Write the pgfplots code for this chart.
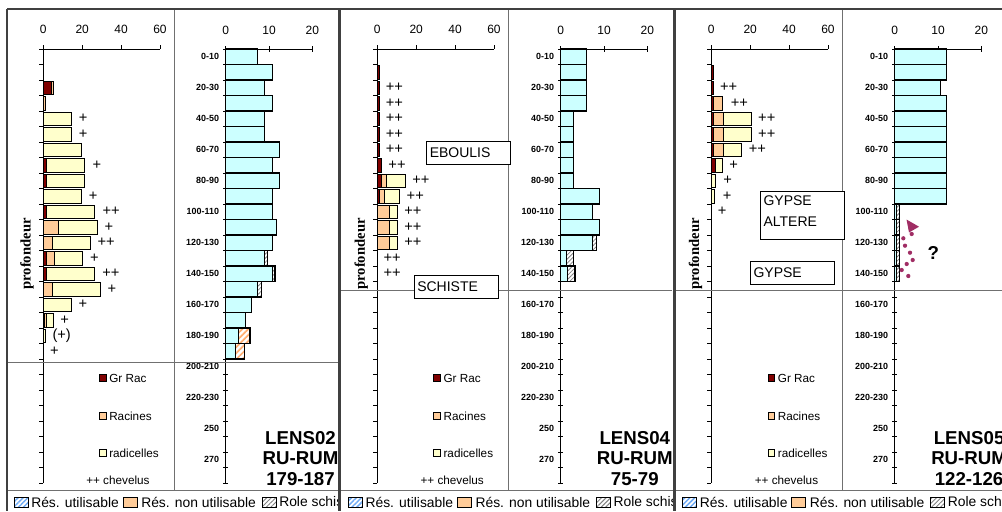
\documentclass[border=0pt]{standalone}
\usepackage{pgfplots}
\usepackage{pgfplotstable}
\pgfplotsset{compat=1.18}
\usepackage{fontspec}
\setmainfont{Liberation Sans}
\newfontfamily\serifbf{Liberation Serif}
\usetikzlibrary{patterns.meta}

\definecolor{grrac}{RGB}{128,0,0}
\definecolor{racines}{RGB}{255,204,153}
\definecolor{radic}{RGB}{255,255,204}
\definecolor{cyanb}{RGB}{204,255,255}
\definecolor{orhatch}{RGB}{255,175,115}
\definecolor{framec}{RGB}{64,64,64}
\definecolor{linec}{RGB}{112,112,112}
\definecolor{purp}{RGB}{160,45,100}
\definecolor{bluehatch}{RGB}{110,170,245}

\newcommand{\fs}[1]{\fontsize{#1}{#1}\selectfont}

% ---------- LENS02 ----------
\pgfplotstableread{
d g r c
-25 4.3 0.9 0
-35 0 1.2 0
-45 0 0 14.4
-55 0 0 14.4
-65 0 0 19.6
-75 1.5 0 19.8
-85 1.7 0 19.6
-95 0 0 19.6
-105 1.7 0 24.7
-115 0 7.9 19.9
-125 0 4.8 19.4
-135 1.7 3.8 14.7
-145 1.7 0 24.7
-155 0 4.8 24.7
-165 0 0 14.4
-175 0.8 0.9 3.4
-185 0 0 1.2
}\rootsA
\pgfplotstableread{
d x m
-45 18.2 +
-55 18.2 +
-75 25.2 +
-95 23.3 +
-105 30.4 ++
-115 31.4 +
-125 27.8 ++
-135 24.0 +
-145 30.2 ++
-155 32.9 +
-165 18.0 +
-175 8.7 +
-185 4.6 (+)
-195 3.4 +
}\marksA
\pgfplotstableread{
d u n s
-5 7.4 0 0
-15 10.8 0 0
-25 8.9 0 0
-35 10.8 0 0
-45 8.9 0 0
-55 8.9 0 0
-65 12.5 0 0
-75 10.8 0 0
-85 12.5 0 0
-95 10.8 0 0
-105 10.8 0 0
-115 11.8 0 0
-125 10.8 0 0
-135 8.9 0 0.8
-145 10.8 0 0.6
-155 7.4 0 0.8
-165 6.0 0 0
-175 4.6 0 0
-185 2.9 2.7 0
-195 2.3 2.0 0
}\resA

% ---------- LENS04 ----------
\pgfplotstableread{
d g r c
-15 1.0 0 0
-25 1.0 0 0
-35 1.0 0 0
-45 1.0 0 0
-55 1.0 0 0
-65 1.0 0 0
-75 2.2 0 0
-85 1.9 2.9 9.5
-95 1.0 2.6 7.6
-105 0 6.0 4.2
-115 0 6.0 4.2
-125 0 6.0 4.2
}\rootsB
\pgfplotstableread{
d x m
-25 4.3 ++
-35 4.3 ++
-45 4.3 ++
-55 4.3 ++
-65 4.3 ++
-75 5.6 ++
-85 17.9 ++
-95 15.0 ++
-105 13.8 ++
-115 13.8 ++
-125 13.8 ++
-135 3.1 ++
-145 3.1 ++
}\marksB
\pgfplotstableread{
d u n s
-5 5.9 0 0
-15 5.9 0 0
-25 5.9 0 0
-35 5.9 0 0
-45 3.0 0 0
-55 3.0 0 0
-65 3.0 0 0
-75 3.0 0 0
-85 3.0 0 0
-95 8.9 0 0
-105 7.4 0 0
-115 8.9 0 0
-125 7.4 0 0.8
-135 1.4 0 1.6
-145 1.5 0 1.8
}\resB

% ---------- LENS05 ----------
\pgfplotstableread{
d g r c
-15 1.0 0 0
-25 1.0 0 0
-35 1.0 4.6 0
-45 1.0 5.1 14.5
-55 1.0 5.1 14.5
-65 1.0 5.1 9.2
-75 2.0 0 3.6
-85 0 0 2.2
-95 0 0 1.5
}\rootsC
\pgfplotstableread{
d x m
-25 4.4 ++
-35 9.9 ++
-45 24.0 ++
-55 24.0 ++
-65 19.2 ++
-75 9.2 +
-85 6.1 +
-95 5.8 +
-105 3.2 +
}\marksC
\pgfplotstableread{
d u n s
-5 12.0 0 0
-15 12.0 0 0
-25 10.5 0 0
-35 12.0 0 0
-45 12.0 0 0
-55 12.0 0 0
-65 12.0 0 0
-75 12.0 0 0
-85 12.0 0 0
-95 12.0 0 0
-105 0.5 0 0.6
-115 0.5 0 0.6
-125 0.5 0 0.6
-135 0.5 0 0.6
-145 0.5 0 0.6
}\resC

\pgfplotsset{
  geomL/.style={scale only axis, width=87.5pt, height=325.5pt,
    xmin=0, xmax=60, ymin=-280, ymax=0, clip=false},
  leftchart/.style={geomL,
    axis x line*=top, axis y line*=left,
    axis line style={-, black, line width=0.6pt},
    xtick={0,20,40,60}, ytick={-280,-270,...,0}, yticklabels={},
    tick align=outside, major tick length=3pt,
    tick style={black, line width=0.6pt},
    xticklabel style={font=\fs{9}, yshift=5pt},
    /pgf/number format/assume math mode=true,
    xbar stacked, bar width=8.6},
  marksax/.style={geomL, hide axis},
  rightchart/.style={scale only axis, width=64.95pt, height=325.5pt,
    xmin=0, xmax=20, ymin=-280, ymax=0, clip=false,
    axis x line*=top, axis y line*=left,
    axis line style={-, black, line width=0.6pt},
    xtick={0,10,20}, ytick={-280,-270,...,0}, yticklabels={},
    tick align=center, major tick length=4pt,
    tick style={black, line width=0.6pt},
    xticklabel style={font=\fs{9}, yshift=5pt},
    /pgf/number format/assume math mode=true,
    extra y ticks={-5,-25,...,-265},
    extra y tick labels={0-10,20-30,40-50,60-70,80-90,100-110,120-130,140-150,160-170,180-190,200-210,220-230,250,270},
    extra y tick style={major tick length=0pt, yticklabel style={font=\bfseries\fs{6.7}, xshift=-1.5pt}},
    xbar stacked, bar width=10},
  gr/.style={fill=grrac, draw=black, line width=0.6pt},
  ra/.style={fill=racines, draw=black, line width=0.6pt},
  rd/.style={fill=radic, draw=black, line width=0.6pt},
  ru/.style={fill=cyanb, draw=black, line width=0.9pt},
  rn/.style={draw=black, line width=0.9pt, pattern={Lines[angle=45,distance=3.2pt,line width=1.3pt]}, pattern color=orhatch},
  rs/.style={draw=black, line width=0.9pt, pattern={Lines[angle=45,distance=2.2pt,line width=0.6pt]}, pattern color=gray},
  mk/.style={draw=none, mark=none, nodes near coords, point meta=explicit symbolic,
    nodes near coords style={anchor=west, inner sep=0pt, font=\fs{11}}},
}

\begin{document}
\begin{tikzpicture}
\useasboundingbox (0,0) rectangle (751.5pt,-383.25pt);

% ===== Panel 1 =====
\begin{axis}[leftchart, at={({43.3*0.75pt},{-49*0.75pt})}, anchor=north west]
\addplot[gr] table[x=g,y=d] \rootsA;
\addplot[ra] table[x=r,y=d] \rootsA;
\addplot[rd] table[x=c,y=d] \rootsA;
\end{axis}
\begin{axis}[marksax, at={({43.3*0.75pt},{-49*0.75pt})}, anchor=north west]
\addplot[mk] table[x=x,y=d,meta=m] \marksA;
\end{axis}
\begin{axis}[rightchart, at={({225.7*0.75pt},{-49*0.75pt})}, anchor=north west]
\addplot[ru] table[x=u,y=d] \resA;
\addplot[rn] table[x=n,y=d] \resA;
\addplot[rs] table[x=s,y=d] \resA;
\end{axis}

% ===== Panel 2 =====
\begin{axis}[leftchart, at={({377.3*0.75pt},{-49*0.75pt})}, anchor=north west]
\addplot[gr] table[x=g,y=d] \rootsB;
\addplot[ra] table[x=r,y=d] \rootsB;
\addplot[rd] table[x=c,y=d] \rootsB;
\end{axis}
\begin{axis}[marksax, at={({377.3*0.75pt},{-49*0.75pt})}, anchor=north west]
\addplot[mk] table[x=x,y=d,meta=m] \marksB;
\end{axis}
\begin{axis}[rightchart, at={({560.7*0.75pt},{-49*0.75pt})}, anchor=north west]
\addplot[ru] table[x=u,y=d] \resB;
\addplot[rn] table[x=n,y=d] \resB;
\addplot[rs] table[x=s,y=d] \resB;
\end{axis}

% ===== Panel 3 =====
\begin{axis}[leftchart, at={({711.3*0.75pt},{-49*0.75pt})}, anchor=north west]
\addplot[gr] table[x=g,y=d] \rootsC;
\addplot[ra] table[x=r,y=d] \rootsC;
\addplot[rd] table[x=c,y=d] \rootsC;
\end{axis}
\begin{axis}[marksax, at={({711.3*0.75pt},{-49*0.75pt})}, anchor=north west]
\addplot[mk] table[x=x,y=d,meta=m] \marksC;
\end{axis}
\begin{axis}[rightchart, at={({894.7*0.75pt},{-49*0.75pt})}, anchor=north west]
\addplot[ru] table[x=u,y=d] \resC;
\addplot[rn] table[x=n,y=d] \resC;
\addplot[rs] table[x=s,y=d] \resC;
\end{axis}

% ===== Decorations (pixel coordinates, y downward) =====
\begin{scope}[x=0.75pt,y=-0.75pt]
\foreach \o/\lens/\range in {0/LENS02/179-187, 334.3/LENS04/75-79, 668.6/LENS05/122-126} {
  \draw[linec, line width=0.75pt] (\o+174,10) -- (\o+174,490);
  \draw[linec, line width=0.75pt] (\o+7,490) -- (\o+339,490);
  \node[rotate=90, font=\serifbf\bfseries\fs{11}] at (\o+27,254) {profondeur};
  \draw[black, line width=0.5pt, fill=grrac] (\o+99.5,374.7) rectangle (\o+106,381.2);
  \node[anchor=west, font=\fs{8.8}, inner sep=0pt] at (\o+109,378) {Gr Rac};
  \draw[black, line width=0.5pt, fill=racines] (\o+99.5,412.7) rectangle (\o+106,419.2);
  \node[anchor=west, font=\fs{8.8}, inner sep=0pt] at (\o+109,416) {Racines};
  \draw[black, line width=0.5pt, fill=radic] (\o+99.5,449.7) rectangle (\o+106,456.2);
  \node[anchor=west, font=\fs{8.8}, inner sep=0pt] at (\o+109,453) {radicelles};
  \node[anchor=west, font=\fs{8.8}, inner sep=0pt] at (\o+86,480) {++ chevelus};
  \node[font=\bfseries\fs{14}, inner sep=0pt] at (\o+300.5,438) {\lens};
  \node[font=\bfseries\fs{14}, inner sep=0pt] at (\o+300.5,458) {RU-RUM};
  \node[font=\bfseries\fs{14}, inner sep=0pt] at (\o+300.5,479) {\range};
  \begin{scope}
    \clip (\o+8,491) rectangle (\o+338,511);
    \fill[white] (\o+14,497) rectangle (\o+28,507);
    \fill[pattern={Lines[angle=45,distance=2.6pt,line width=1.1pt]}, pattern color=bluehatch] (\o+14,497) rectangle (\o+28,507);
    \draw[black, line width=0.5pt] (\o+14,497) rectangle (\o+28,507);
    \node[anchor=west, font=\fs{10.4}, inner sep=0pt] at (\o+31,502) {Rés. utilisable};
    \draw[black, line width=0.5pt, fill=racines] (\o+123,497) rectangle (\o+137,507);
    \node[anchor=west, font=\fs{10.4}, inner sep=0pt] at (\o+141,502) {Rés. non utilisable};
    \fill[pattern={Lines[angle=45,distance=2.4pt,line width=0.7pt]}, pattern color=gray] (\o+262,497) rectangle (\o+276,507);
    \draw[black, line width=0.5pt] (\o+262,497) rectangle (\o+276,507);
    \node[anchor=west, font=\fs{10.4}, inner sep=0pt] at (\o+279,502) {Role schiste};
  \end{scope}
}
% soil limits
\draw[linec, line width=0.75pt] (8,362) -- (338,362);
\draw[linec, line width=0.75pt] (341,290) -- (672,290);
\draw[linec, line width=0.75pt] (676,290) -- (1002,290);
% text boxes
\draw[black, line width=0.6pt, fill=white] (426.7,141.7) rectangle (510,164);
\node[anchor=west, font=\fs{10.5}, inner sep=0pt] at (429.5,153) {EBOULIS};
\draw[black, line width=0.6pt, fill=white] (414.3,275) rectangle (498.3,298.3);
\node[anchor=west, font=\fs{10.5}, inner sep=0pt] at (417,286.5) {SCHISTE};
\draw[black, line width=0.6pt, fill=white] (760,191) rectangle (844,239);
\node[anchor=west, font=\fs{10.5}, inner sep=0pt] at (763.3,200.5) {GYPSE};
\node[anchor=west, font=\fs{10.5}, inner sep=0pt] at (763.3,222) {ALTERE};
\draw[black, line width=0.6pt, fill=white] (750,261.7) rectangle (834.3,284.3);
\node[anchor=west, font=\fs{10.5}, inner sep=0pt] at (753.3,273) {GYPSE};
% question mark and dotted arrow
\node[font=\bfseries\fs{14}] at (933.3,253.3) {?};
\fill[purp] (906.5,219.5) -- (919,226.7) -- (909,232.5) -- cycle;
\foreach \p in {(911.7,234),(903.3,238.3),(905,245.7),(910,252.7),(912.7,260),(906.7,264),(901.7,270),(908.3,276)}
  \fill[purp] \p circle[radius=1.6pt];
% frames
\draw[framec, line width=1.5pt] (7,9) -- (1002,9);
\draw[framec, line width=1.5pt] (7,9) -- (7,511);
\draw[framec, line width=2.5pt] (339.5,9) -- (339.5,511);
\draw[framec, line width=2.5pt] (674.5,9) -- (674.5,511);
\end{scope}
\end{tikzpicture}
\end{document}
